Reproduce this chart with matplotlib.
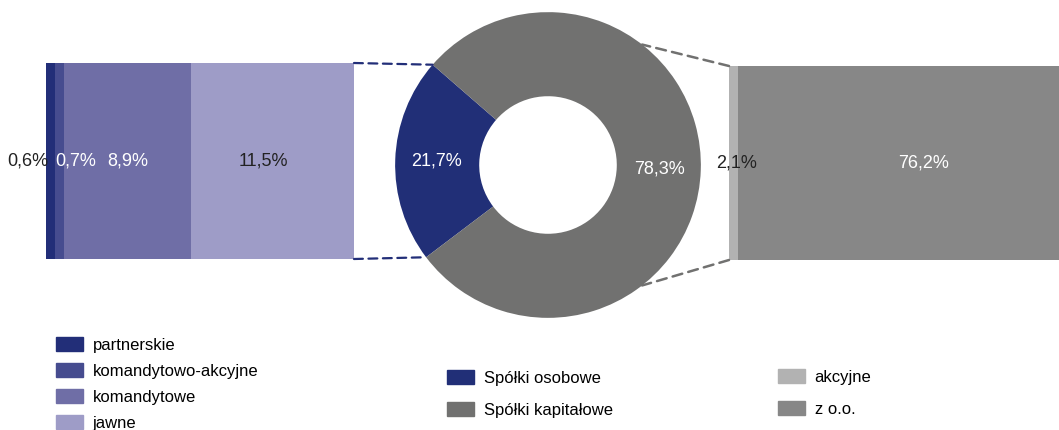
import numpy as np
import matplotlib
matplotlib.use('Agg')
import matplotlib.pyplot as plt
from matplotlib.patches import Patch, ConnectionPatch

plt.rcParams['font.family'] = ['Liberation Sans', 'DejaVu Sans']

# data
left_labels = ['partnerskie', 'komandytowo-akcyjne', 'komandytowe', 'jawne']
left_values = [0.6, 0.7, 8.9, 11.5]
left_colors = ['#222e78', '#464c8f', '#6f6ea6', '#9e9cc7']

pie_labels = ['Spółki osobowe', 'Spółki kapitałowe']
pie_values = [21.7, 78.3]
pie_colors = ['#212f77', '#717170']

right_labels = ['akcyjne', 'z o.o.']
right_values = [2.1, 76.2]
right_colors = ['#b2b2b2', '#878787']

def fmt(v):
    return f'{v:.1f}%'.replace('.', ',')

W, H = 1059, 430
FS = 13
fig = plt.figure(figsize=(W / 100, H / 100), dpi=100)

############################################################
# left stacked bar
axl = fig.add_axes([46 / W, (H - 259) / H, 308 / W, 196 / H])
start = 0
for v, c in zip(left_values, left_colors):
    axl.barh(0, v, left=start, height=1, color=c)
    start += v
axl.set_xlim(0, sum(left_values))
axl.set_ylim(-0.5, 0.5)
axl.axis('off')

lefts = np.cumsum([0] + left_values[:-1])
axl.text(0.15, 0, fmt(left_values[0]), ha='right', va='center', fontsize=FS, color='#222222')
axl.text(lefts[1] + 0.05, 0, fmt(left_values[1]), ha='left', va='center', fontsize=FS, color='white')
axl.text(lefts[2] + left_values[2] / 2, 0, fmt(left_values[2]), ha='center', va='center', fontsize=FS, color='white')
axl.text(lefts[3] + left_values[3] / 2 - 0.6, 0, fmt(left_values[3]), ha='center', va='center', fontsize=FS, color='#222222')

############################################################
# donut
axp = fig.add_axes([(548 - 160.5) / W, (H - 165 - 160.5) / H, 321 / W, 321 / H])
wedges, texts, autotexts = axp.pie(pie_values, colors=pie_colors, startangle=139,
                                   wedgeprops=dict(width=0.55, edgecolor='none'),
                                   autopct=lambda p: f'{p:.1f}%'.replace('.', ','),
                                   pctdistance=0.73, textprops=dict(fontsize=FS, color='white'))
axp.set_xlim(-1.05, 1.05)
axp.set_ylim(-1.05, 1.05)
axp.set_aspect('equal')
axp.axis('off')

############################################################
# right stacked bar
axr = fig.add_axes([729 / W, (H - 260) / H, 330 / W, 194 / H])
start = 0
for v, c in zip(right_values, right_colors):
    axr.barh(0, v, left=start, height=1, color=c)
    start += v
axr.set_xlim(0, sum(right_values))
axr.set_ylim(-0.5, 0.5)
axr.axis('off')
axr.text(right_values[0] / 2 + 0.8, 0, fmt(right_values[0]), ha='center', va='center', fontsize=FS, color='#222222')
axr.text(right_values[0] + right_values[1] / 2 + 6, 0, fmt(right_values[1]), ha='center', va='center', fontsize=FS, color='white')

############################################################
# connector lines
def rim(ang, r=1.0):
    a = np.deg2rad(ang)
    return (r * np.cos(a), r * np.sin(a))

blue_start = 139
blue_end = blue_start + 360 * pie_values[0] / 100
for ya, ang in [(1, blue_start), (0, blue_end)]:
    con = ConnectionPatch(xyA=(1, ya), coordsA=axl.transAxes, xyB=rim(ang), coordsB=axp.transData,
                          color='#222e78', lw=1.6, linestyle=(0, (4, 2.5)))
    fig.add_artist(con)
for ya, ang in [(1, 52), (0, -52)]:
    con = ConnectionPatch(xyA=(0, ya), coordsA=axr.transAxes, xyB=rim(ang), coordsB=axp.transData,
                          color='#717170', lw=1.8, linestyle=(0, (4, 2.5)))
    fig.add_artist(con)

############################################################
# legends
common = dict(frameon=False, fontsize=12, handlelength=1.6, handleheight=0.95,
              handletextpad=0.6, borderpad=0, borderaxespad=0, loc='upper left')
fig.legend([Patch(color=c) for c in left_colors], left_labels,
           bbox_to_anchor=(56 / W, (H - 337) / H), labelspacing=0.6, **common)
fig.legend([Patch(color=c) for c in pie_colors], pie_labels,
           bbox_to_anchor=(447 / W, (H - 370) / H), labelspacing=0.97, **common)
fig.legend([Patch(color=c) for c in right_colors], right_labels,
           bbox_to_anchor=(778 / W, (H - 369) / H), labelspacing=0.97, **common)

fig.savefig('out.png', dpi=100)
